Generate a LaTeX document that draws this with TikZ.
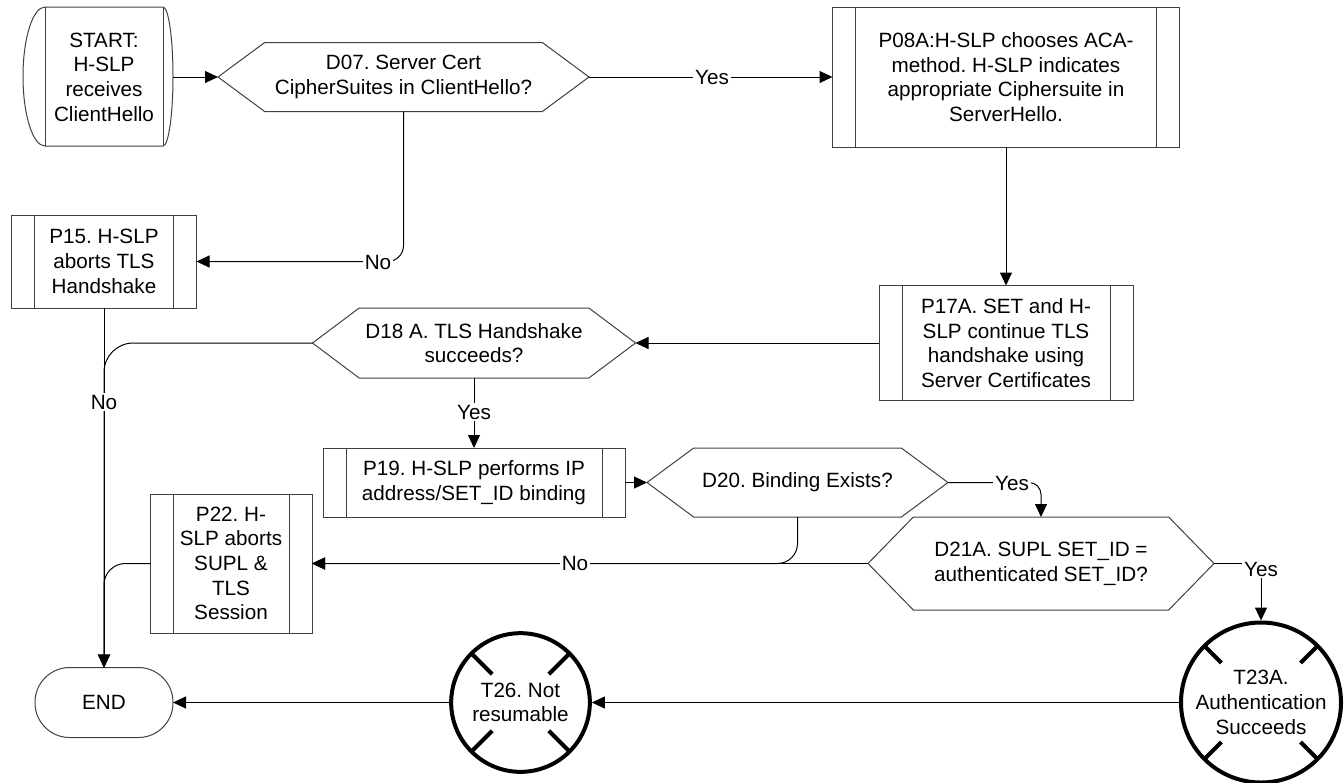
\documentclass[tikz,border=0pt]{standalone}
\usepackage{fontspec}
\setmainfont{Liberation Sans}
\frenchspacing
\usetikzlibrary{arrows.meta}
\definecolor{shp}{RGB}{64,64,64}
\newcommand{\hexshape}[2]{\draw[shp, line width=0.75pt] ([xshift=#2]#1.north west) -- ([xshift=-#2]#1.north east) -- (#1.east) -- ([xshift=-#2]#1.south east) -- ([xshift=#2]#1.south west) -- (#1.west) -- cycle;}
\begin{document}
\begin{tikzpicture}[x=0.75pt,y=-0.75pt,
  txt/.style={font=\fontsize{15.5}{18.5}\selectfont, align=center, inner sep=0pt, outer sep=0pt},
  proc/.style={txt, draw=shp, line width=0.75pt,
    path picture={\draw[shp, line width=0.75pt]
      ([xshift=17.25pt]path picture bounding box.north west) -- ([xshift=17.25pt]path picture bounding box.south west)
      ([xshift=-17.25pt]path picture bounding box.north east) -- ([xshift=-17.25pt]path picture bounding box.south east);}},
  hexa/.style={txt},
  endbox/.style={txt, draw=shp, line width=0.75pt, rounded corners=26pt},
  term/.style={txt, circle, draw=black, line width=3pt, outer sep=1.5pt},
  conn/.style={draw=black, line width=0.75pt, -{Triangle[length=9.75pt,width=9pt]}},
  lbl/.style={font=\fontsize{15.5}{18.5}\selectfont, fill=white, inner sep=1.5pt}
]
\useasboundingbox (0,0) rectangle (1344,782);

% START terminator
\node[txt, minimum width=103.5pt, minimum height=104.25pt] (start) at (104,77) {START:\\H-SLP\\receives\\ClientHello};
\draw[shp, line width=0.75pt] (45,7) -- (163,7) arc[start angle=90, end angle=-90, x radius=7.5pt, y radius=52.125pt]
  -- (45,146) arc[start angle=270, end angle=90, x radius=16.5pt, y radius=52.125pt] -- cycle;
\draw[shp, line width=0.75pt] (45,7) -- (45,146) (163,7) -- (163,146);

% decisions
\node[hexa, minimum width=278.25pt, minimum height=51.75pt] (d07) at (403.5,77) {D07. Server Cert\\CipherSuites in ClientHello?};
\hexshape{d07}{35pt}
\node[hexa, minimum width=242.25pt, minimum height=52.5pt] (d18) at (474,343) {D18 A. TLS Handshake\\succeeds?};
\hexshape{d18}{35pt}
\node[hexa, minimum width=225.75pt, minimum height=51.75pt] (d20) at (797.5,482.5) {D20. Binding Exists?};
\hexshape{d20}{35pt}
\node[hexa, minimum width=259.5pt, minimum height=69.75pt] (d21) at (1041,563.5) {D21A. SUPL SET\_ID =\\authenticated SET\_ID?};
\hexshape{d21}{34pt}

% processes
\node[proc, minimum width=260.25pt, minimum height=105pt] (p08) at (1006,77) {P08A:H-SLP chooses ACA-\\method. H-SLP indicates\\appropriate Ciphersuite in\\ServerHello.};
\node[proc, minimum width=190.5pt, minimum height=86.25pt] (p17) at (1006,343) {P17A. SET and H-\\SLP continue TLS\\handshake using\\Server Certificates};
\node[proc, minimum width=138.75pt, minimum height=69.75pt] (p15) at (104,261.5) {P15. H-SLP\\aborts TLS\\Handshake};
\node[proc, minimum width=226.5pt, minimum height=51.75pt] (p19) at (474,482.5) {P19. H-SLP performs IP\\address/SET\_ID binding};
\node[proc, minimum width=121.5pt, minimum height=104.25pt] (p22) at (231,563.5) {P22. H-\\SLP aborts\\SUPL \&\\TLS\\Session};

% end and terminal circles
\node[endbox, minimum width=103.5pt, minimum height=52.5pt] (end) at (104,702.5) {END};
\node[term, minimum size=120pt] (t23) at (1261,702.5) {T23A.\\Authentication\\Succeeds};
\node[term, minimum size=104pt] (t26) at (520.5,702.5) {T26. Not\\resumable};
\foreach \a in {45,135,225,315}{
  \draw[line width=3pt] ([shift={(\a:60pt)}]t23.center) -- ([shift={(\a:42pt)}]t23.center);
  \draw[line width=3pt] ([shift={(\a:52pt)}]t26.center) -- ([shift={(\a:30pt)}]t26.center);
}

% connectors
\draw[conn] (start.east) -- (d07.west);
\draw[conn] (d07.east) -- (p08.west);
\draw[conn, rounded corners=12pt] (d07.south) |- (p15.east);
\draw[conn] (p08.south) -- (p17.north);
\draw[conn] (p17.west) -- (d18.east);
\draw[conn] (d18.south) -- (p19.north);
\draw[conn, rounded corners=22pt] (d18.west) -| (end.north);
\draw[conn] (p15.south) -- (end.north);
\draw[conn, rounded corners=16pt] (p22.west) -| (end.north);
\draw[conn] (p19.east) -- (d20.west);
\draw[conn, rounded corners=9pt] (d20.east) -| (d21.north);
\draw[conn, rounded corners=15pt] (d20.south) |- (p22.east);
\draw[conn] (d21.west) -- (p22.east);
\draw[conn] (d21.east) -| (t23.north);
\draw[conn] (t23.west) -- (t26.east);
\draw[conn] (t26.west) -- (end.east);

% labels
\node[lbl] at (712,77) {Yes};
\node[lbl] at (378,262) {No};
\node[lbl] at (474,412) {Yes};
\node[lbl] at (104,402) {No};
\node[lbl] at (1012,483) {Yes};
\node[lbl] at (575,563) {No};
\node[lbl] at (1261,569) {Yes};
\end{tikzpicture}
\end{document}
